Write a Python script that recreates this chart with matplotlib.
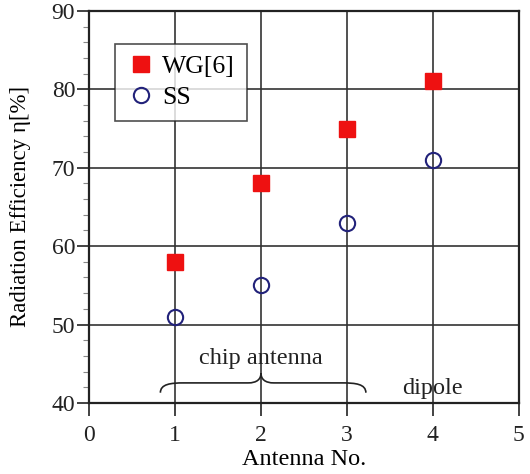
import matplotlib
matplotlib.use("Agg")
import matplotlib.pyplot as plt
from matplotlib.path import Path
from matplotlib.patches import PathPatch
from matplotlib.ticker import MultipleLocator

antenna = [1, 2, 3, 4]
wg = [58, 68, 75, 81]
ss = [51, 55, 63, 71]

plt.rcParams['font.family'] = ['Liberation Serif', 'DejaVu Serif']

fig = plt.figure(figsize=(5.3, 4.74), dpi=100)
ax = fig.add_axes([0.168, 0.150, 0.811, 0.827])

ax.set_xlim(0, 5)
ax.set_ylim(40, 90)
ax.xaxis.set_major_locator(MultipleLocator(1))
ax.yaxis.set_major_locator(MultipleLocator(10))
ax.yaxis.set_minor_locator(MultipleLocator(2))
ax.grid(True, which='major', color='#333333', linewidth=1.2)
ax.set_axisbelow(True)
for s in ax.spines.values():
    s.set_linewidth(1.6)
    s.set_color('#222222')
ax.tick_params(which='major', direction='out', length=9, width=1.2, labelsize=17, colors='#222222', pad=1)
ax.tick_params(axis='x', which='major', pad=7)
ax.tick_params(which='minor', direction='out', length=4.5, width=0.8, colors='#888888')

ax.plot(antenna, wg, linestyle='none', marker='s', markersize=12,
        color='#ee1111', markeredgecolor='#ee1111', label='WG[6]', zorder=3)
ax.plot(antenna, ss, linestyle='none', marker='o', markersize=11,
        markerfacecolor='none', markeredgecolor='#22227a', markeredgewidth=1.5,
        label='SS', zorder=3)

leg = ax.legend(loc='upper left', bbox_to_anchor=(0.06, 0.916), fontsize=18.5,
                frameon=True, fancybox=False, edgecolor='#222222',
                handletextpad=0.3, borderpad=0.45, labelspacing=0.3,
                handlelength=1.1, borderaxespad=0)
leg.get_frame().set_linewidth(1.2)

ax.set_xlabel('Antenna No.', fontsize=17.5, labelpad=2)
ax.set_ylabel('Radiation Efficiency η[%]', fontsize=16.5)
ax.yaxis.set_label_coords(-0.135, 0.5)

# curly brace annotation
verts = [(0.83, 41.3), (0.83, 42.4), (0.95, 42.55), (1.1, 42.55),
         (1.85, 42.55),
         (1.95, 42.55), (2.0, 43.0), (2.0, 43.8),
         (2.0, 43.0), (2.05, 42.55), (2.15, 42.55),
         (2.95, 42.55),
         (3.1, 42.55), (3.22, 42.4), (3.22, 41.3)]
codes = [Path.MOVETO, Path.CURVE4, Path.CURVE4, Path.CURVE4,
         Path.LINETO,
         Path.CURVE4, Path.CURVE4, Path.CURVE4,
         Path.CURVE4, Path.CURVE4, Path.CURVE4,
         Path.LINETO,
         Path.CURVE4, Path.CURVE4, Path.CURVE4]
ax.add_patch(PathPatch(Path(verts, codes), facecolor='none', edgecolor='#222222', linewidth=1.2, zorder=4))
ax.text(2.0, 45.6, 'chip antenna', ha='center', va='center', fontsize=17.5, color='#222222', zorder=5)
ax.text(3.99, 41.9, 'dipole', ha='center', va='center', fontsize=17.5, color='#222222', zorder=5)

fig.savefig('out.png', dpi=100)
